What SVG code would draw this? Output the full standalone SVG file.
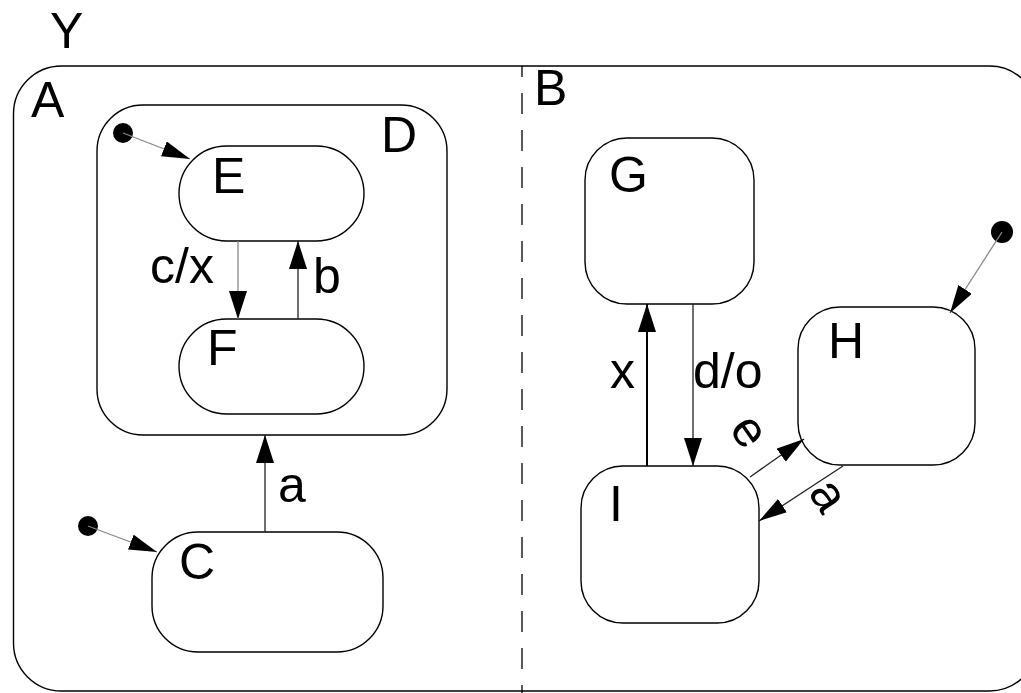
<svg xmlns="http://www.w3.org/2000/svg" width="1021" height="693" viewBox="0 0 1021 693">
<style>
.st{fill:#fff;stroke:#000;stroke-width:1.4}
.lb{font-family:"Liberation Sans",Arial,sans-serif;font-size:50px;fill:#000}
.ln{stroke:#222;stroke-width:1.3;fill:none}
.gr{stroke:#888;stroke-width:1.3;fill:none}
.dot{fill:#000}
</style>
<defs>
<marker id="ah" markerUnits="userSpaceOnUse" markerWidth="28" markerHeight="18" refX="28" refY="9" orient="auto">
<path d="M0,0 L28,9 L0,18 z" fill="#000"/>
</marker>
<marker id="ai" markerUnits="userSpaceOnUse" markerWidth="28" markerHeight="16" refX="28" refY="8" orient="auto">
<path d="M0,0 L28,8 L0,16 z" fill="#000"/>
</marker>
</defs>
<rect width="1021" height="693" fill="#fff"/>
<g id="Y">
<rect class="st" x="13.5" y="66" width="1024" height="625" rx="48"/>
<text class="lb" x="50" y="48">Y</text>
</g>
<g id="A">
<text class="lb" x="31" y="117">A</text>
</g>
<g id="B">
<line x1="522" y1="66" x2="522" y2="693" stroke="#000" stroke-width="1.3" stroke-dasharray="21 16" stroke-dashoffset="10"/>
<text class="lb" x="534" y="105">B</text>
</g>
<g id="D">
<rect class="st" x="97" y="105" width="350" height="330" rx="46"/>
<text class="lb" x="381" y="152">D</text>
</g>
<g id="E">
<rect class="st" x="179" y="146" width="185" height="95" rx="47.5"/>
<text class="lb" x="212" y="193">E</text>
</g>
<g id="F">
<rect class="st" x="179" y="319" width="185" height="95" rx="47.5"/>
<text class="lb" x="207" y="365">F</text>
</g>
<g id="C">
<rect class="st" x="152" y="532" width="231" height="120" rx="46"/>
<text class="lb" x="179" y="579">C</text>
</g>
<g id="G">
<rect class="st" x="585" y="138" width="169" height="166" rx="42"/>
<text class="lb" x="609" y="192">G</text>
</g>
<g id="H">
<rect class="st" x="798" y="307" width="177" height="158" rx="42"/>
<text class="lb" x="828" y="358">H</text>
</g>
<g id="I">
<rect class="st" x="581" y="466" width="178" height="157" rx="42"/>
<text class="lb" x="609" y="521">I</text>
</g>
<g id="connectors">
<circle class="dot" cx="123" cy="133" r="10"/>
<line class="gr" x1="123" y1="133" x2="190" y2="159" marker-end="url(#ai)"/>
<line class="gr" x1="238" y1="241" x2="238" y2="319" stroke="#555" marker-end="url(#ah)"/>
<text class="lb" x="150" y="283">c/x</text>
<line class="ln" x1="298" y1="319" x2="298" y2="241" marker-end="url(#ah)"/>
<text class="lb" x="313" y="293">b</text>
<line class="ln" x1="265" y1="532" x2="265" y2="435" marker-end="url(#ah)"/>
<text class="lb" x="278" y="502">a</text>
<circle class="dot" cx="88" cy="526" r="10"/>
<line class="gr" x1="88" y1="526" x2="157" y2="552" marker-end="url(#ai)"/>
<line x1="647" y1="466" x2="647" y2="304" stroke="#000" stroke-width="2" marker-end="url(#ah)"/>
<text class="lb" x="610" y="388">x</text>
<line class="ln" x1="693" y1="304" x2="693" y2="466" marker-end="url(#ah)"/>
<text class="lb" x="693" y="388">d/o</text>
<circle class="dot" cx="1002" cy="232" r="11"/>
<line class="gr" x1="1002" y1="232" x2="950" y2="313" marker-end="url(#ai)"/>
<line class="ln" x1="750" y1="477" x2="804" y2="439" stroke-width="1" marker-end="url(#ai)"/>
<text class="lb" text-anchor="middle" transform="translate(747 433) rotate(55)" y="13">e</text>
<line class="ln" x1="843" y1="466" x2="759" y2="521" marker-end="url(#ai)"/>
<text class="lb" text-anchor="middle" transform="translate(826 497) rotate(57)" y="13">a</text>
</g>
</svg>
